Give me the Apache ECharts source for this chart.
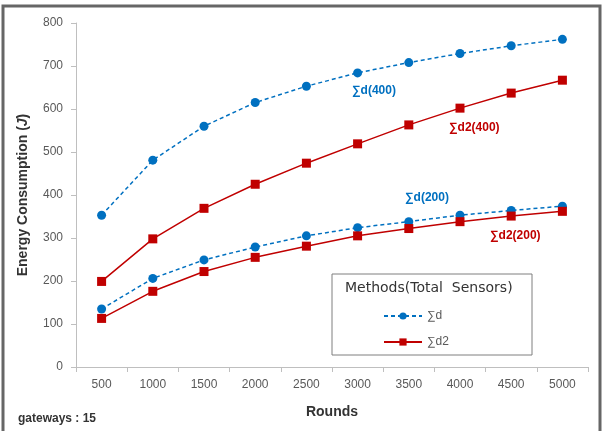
<!DOCTYPE html>
<html><head><meta charset="utf-8">
<script src="https://cdn.jsdelivr.net/npm/echarts@6/dist/echarts.min.js"></script>
<style>html,body{margin:0;padding:0;background:#fff}#c{width:604px;height:431px}</style>
</head><body><div id="c"></div>
<script>
const rounds = ['500','1000','1500','2000','2500','3000','3500','4000','4500','5000'];
const sumD400  = [353, 481, 560, 615, 653, 684, 708, 729, 747, 762];
const sumD2400 = [199, 298, 369, 425, 474, 519, 563, 602, 637, 667];
const sumD200  = [135, 206, 249, 279, 305, 324, 338, 353, 364, 374];
const sumD2200 = [113, 176, 222, 255, 281, 305, 322, 338, 351, 362];
const yTicks = [0,100,200,300,400,500,600,700,800];

const BLUE = '#0070C0', RED = '#C00000';
const chart = echarts.init(document.getElementById('c'));
const lbl = {color:'#595959', fontSize:12, fontFamily:'Liberation Sans'};
function blueSeries(name, data){
  return {name, type:'line', data, symbol:'circle', symbolSize:9,
    itemStyle:{color:BLUE}, lineStyle:{color:BLUE, width:1.5, type:[4,3]}, z:3};
}
function redSeries(name, data){
  return {name, type:'line', data, symbol:'rect', symbolSize:9,
    itemStyle:{color:RED}, lineStyle:{color:RED, width:1.5}, z:3};
}
chart.setOption({
  animation:false,
  backgroundColor:'#fff',
  grid:{left:76, right:16, top:23, bottom:64},
  xAxis:{type:'category', data:rounds, boundaryGap:true,
    axisLine:{lineStyle:{color:'#bfbfbf'}},
    axisTick:{show:true, length:5, lineStyle:{color:'#bfbfbf'}},
    axisLabel:Object.assign({margin:12}, lbl),
    name:'Rounds', nameLocation:'middle', nameGap:38,
    nameTextStyle:{fontWeight:'bold', fontSize:14, color:'#333', fontFamily:'Liberation Sans'}},
  yAxis:{type:'value', min:0, max:800, interval:100,
    axisLine:{show:true, lineStyle:{color:'#bfbfbf'}},
    axisTick:{show:true, length:5, lineStyle:{color:'#bfbfbf'}},
    splitLine:{show:false},
    axisLabel:Object.assign({margin:13, formatter:v=>yTicks.includes(v)?String(v):''}, lbl),
    name:'{a|Energy Consumption (}{b|J}{a|)}', nameLocation:'middle', nameGap:46, nameRotate:90,
    nameTextStyle:{rich:{a:{fontWeight:'bold', fontSize:14, color:'#333', fontFamily:'Liberation Sans'},
                         b:{fontWeight:'bold', fontStyle:'italic', fontSize:14, color:'#333', fontFamily:'Liberation Sans'}}}},
  legend:{data:[{name:'∑d'},{name:'∑d2'}], orient:'vertical', left:378, top:305, z:10,
    itemWidth:38, itemHeight:9, itemGap:14,
    textStyle:{color:'#595959', fontSize:12, fontFamily:'Liberation Sans'}},
  series:[
    blueSeries('∑d', sumD400),
    redSeries('∑d2', sumD2400),
    blueSeries('∑d', sumD200),
    redSeries('∑d2', sumD2200)
  ],
  graphic:[
    {type:'rect', shape:{x:3, y:6, width:597, height:440}, style:{fill:'none', stroke:'#666', lineWidth:3}, silent:true},
    {type:'rect', shape:{x:332, y:274, width:200, height:81}, style:{fill:'#fff', stroke:'#7f7f7f', lineWidth:1}, z:5},
    {type:'text', left:345, top:281, z:6, style:{text:'Methods(Total  Sensors)', fontSize:14, fill:'#333', fontFamily:'DejaVu Sans'}},
    {type:'text', left:352, top:85, style:{text:'∑d(400)', fontSize:12, fontWeight:'bold', fill:BLUE, fontFamily:'Liberation Sans'}},
    {type:'text', left:449, top:122, style:{text:'∑d2(400)', fontSize:12, fontWeight:'bold', fill:RED, fontFamily:'Liberation Sans'}},
    {type:'text', left:405, top:192, style:{text:'∑d(200)', fontSize:12, fontWeight:'bold', fill:BLUE, fontFamily:'Liberation Sans'}},
    {type:'text', left:490, top:230, style:{text:'∑d2(200)', fontSize:12, fontWeight:'bold', fill:RED, fontFamily:'Liberation Sans'}},
    {type:'text', left:18, top:413, style:{text:'gateways : 15', fontSize:12, fontWeight:'bold', fill:'#333', fontFamily:'Liberation Sans'}}
  ]
});
</script></body></html>
